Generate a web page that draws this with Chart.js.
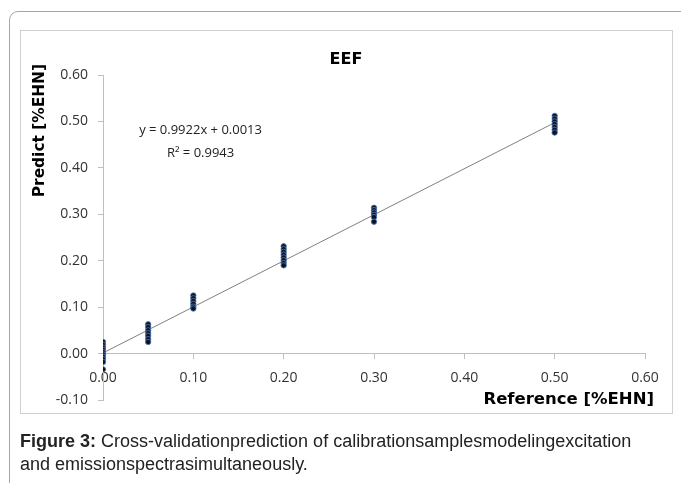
<!DOCTYPE html>
<html>
<head>
<meta charset="utf-8">
<script src="https://cdn.jsdelivr.net/npm/chart.js@4.4.1/dist/chart.umd.min.js"></script>
<style>
  html, body { margin: 0; padding: 0; background: #fff; }
  body { width: 681px; height: 483px; position: relative; overflow: hidden; }
  .outer {
    position: absolute; left: 9px; top: 11px; width: 700px; height: 500px;
    border: 1px solid #a6a6a6; border-radius: 9px;
  }
  .inner {
    position: absolute; left: 20px; top: 30px; width: 651px; height: 382px;
    border: 1px solid #d0d0d0;
  }
  #chart { position: absolute; left: 0; top: 0; }
  .caption {
    position: absolute; left: 20px; top: 430px; width: 645px;
    font-family: "Liberation Sans", Arial, sans-serif; font-size: 18px;
    line-height: 23px; color: #222;
  }
</style>
</head>
<body>
<div class="outer"></div>
<div class="inner"></div>
<canvas id="chart" width="681" height="483"></canvas>
<div class="caption"><b>Figure 3:</b> Cross-validationprediction of calibrationsamplesmodelingexcitation and emissionspectrasimultaneously.</div>
<script>
// reference levels (%EHN) and the cross-validated predictions at each level
const refLevels = [0, 0.05, 0.1, 0.2, 0.3, 0.5];
const predAt000 = [0.025, 0.019, 0.013, 0.008, 0.003, -0.002, -0.007, -0.012, -0.018, -0.034];
const predAt005 = [0.063, 0.057, 0.050, 0.044, 0.038, 0.031, 0.025];
const predAt010 = [0.125, 0.119, 0.113, 0.107, 0.101, 0.097];
const predAt020 = [0.231, 0.225, 0.219, 0.213, 0.207, 0.201, 0.195, 0.190];
const predAt030 = [0.314, 0.309, 0.304, 0.299, 0.294, 0.284];
const predAt050 = [0.512, 0.506, 0.500, 0.494, 0.488, 0.482, 0.476];
const predictions = [predAt000, predAt005, predAt010, predAt020, predAt030, predAt050];

// linear trendline end points
const trendX = [0, 0.5];
const trendY = [0.0013, 0.4974];

const xTicks = ['0.00', '0.10', '0.20', '0.30', '0.40', '0.50', '0.60'];
const yTicks = ['-0.10', '0.00', '0.10', '0.20', '0.30', '0.40', '0.50', '0.60'];

const chartTitle = 'EEF';
const xTitle = 'Reference [%EHN]';
const yTitle = 'Predict [%EHN]';
const equationLines = ['y = 0.9922x + 0.0013', 'R\u00b2 = 0.9943'];

const points = [];
refLevels.forEach((x, i) => {
    predictions[i].forEach(y => points.push({ x: x, y: y }));
});
const trend = trendX.map((x, i) => ({ x: x, y: trendY[i] }));

const labelsPlugin = {
    id: 'labels',
    afterDraw(chart) {
        const ctx = chart.ctx;
        const xs = chart.scales.x;
        const ys = chart.scales.y;
        ctx.save();
        ctx.fillStyle = '#000';
        ctx.font = 'bold 16px "DejaVu Sans", Verdana, sans-serif';
        ctx.textAlign = 'center';
        ctx.textBaseline = 'middle';
        ctx.fillText(chartTitle, 346, 60);

        ctx.font = 'bold 16.5px "DejaVu Sans", Verdana, sans-serif';
        ctx.textAlign = 'right';
        ctx.fillText(xTitle, 654, 400);

        ctx.save();
        ctx.translate(40, 64);
        ctx.rotate(-Math.PI / 2);
        ctx.textAlign = 'right';
        ctx.font = 'bold 15.4px "DejaVu Sans", Verdana, sans-serif';
        ctx.fillText(yTitle, 0, 0);
        ctx.restore();

        ctx.font = '13px "Open Sans", sans-serif';
        ctx.fillStyle = '#222';
        ctx.textAlign = 'center';
        const ex = xs.getPixelForValue(0.108);
        ctx.fillText(equationLines[0], ex, ys.getPixelForValue(0.48));
        ctx.fillText(equationLines[1], ex, ys.getPixelForValue(0.432));
        ctx.restore();
    }
};

new Chart(document.getElementById('chart').getContext('2d'), {
    type: 'scatter',
    data: {
        datasets: [
            {
                label: 'Predicted',
                data: points,
                backgroundColor: '#0b1224',
                borderColor: 'rgba(80, 120, 180, 0.85)',
                borderWidth: 1,
                pointRadius: 2.7,
                order: 1
            },
            {
                label: 'Linear',
                data: trend,
                showLine: true,
                borderColor: '#808080',
                borderWidth: 1,
                pointRadius: 0,
                order: 2
            }
        ]
    },
    options: {
        responsive: false,
        animation: false,
        devicePixelRatio: 1,
        layout: {
            padding: { left: 0, right: 36, top: 75, bottom: 83 }
        },
        plugins: {
            legend: { display: false },
            tooltip: { enabled: false }
        },
        scales: {
            x: {
                type: 'linear',
                position: { y: 0 },
                min: 0,
                max: 0.6,
                grid: {
                    drawOnChartArea: false,
                    drawTicks: true,
                    tickLength: 5,
                    color: '#bfbfbf'
                },
                border: { display: true, color: '#bfbfbf' },
                ticks: {
                    stepSize: 0.1,
                    padding: 11,
                    color: '#333',
                    font: { family: '"Open Sans", sans-serif', size: 14 },
                    callback: (value, index) => xTicks[index]
                }
            },
            y: {
                type: 'linear',
                position: 'left',
                min: -0.1,
                max: 0.6,
                afterFit: (scale) => { scale.width = 103; },
                grid: {
                    drawOnChartArea: false,
                    drawTicks: true,
                    tickLength: 5,
                    color: '#bfbfbf'
                },
                border: { display: true, color: '#bfbfbf' },
                ticks: {
                    stepSize: 0.1,
                    padding: 10,
                    color: '#333',
                    font: { family: '"Open Sans", sans-serif', size: 14 },
                    callback: (value, index) => yTicks[index]
                }
            }
        }
    },
    plugins: [labelsPlugin]
});
</script>
</body>
</html>
